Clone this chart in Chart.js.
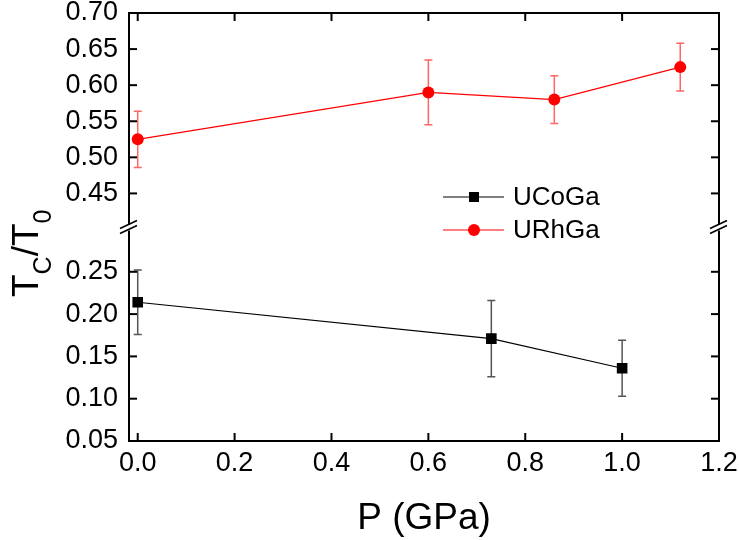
<!DOCTYPE html>
<html>
<head>
<meta charset="utf-8">
<script src="https://cdn.jsdelivr.net/npm/chart.js@4.4.0/dist/chart.umd.min.js"></script>
<style>
  html, body { margin: 0; padding: 0; background: #fff; }
</style>
</head>
<body>
<canvas id="chart" width="739" height="540"></canvas>
<script>
// UCoGa
const coPressure = [0.0, 0.73, 1.0];
const coTc = [0.214, 0.171, 0.136];
const coErr = [0.038, 0.045, 0.033];

// URhGa
const rhPressure = [0.0, 0.60, 0.86, 1.12];
const rhTc = [0.525, 0.590, 0.580, 0.625];
const rhErr = [0.039, 0.045, 0.033, 0.033];

const xTicks = [0.0, 0.2, 0.4, 0.6, 0.8, 1.0, 1.2];
const yTopTicks = [0.45, 0.50, 0.55, 0.60, 0.65, 0.70];
const yLowTicks = [0.05, 0.10, 0.15, 0.20, 0.25];

const FONT = '"Liberation Sans", Arial, sans-serif';

const toPoints = (xs, ys) => xs.map((x, i) => ({ x: x, y: ys[i] }));

// error bars, drawn under the markers
const errorBars = {
    id: 'errorBars',
    beforeDatasetsDraw(chart) {
        const ctx = chart.ctx;
        chart.data.datasets.forEach((ds, i) => {
            const xs = chart.scales.x;
            const ys = chart.scales[ds.yAxisID];
            ctx.save();
            ctx.strokeStyle = ds.errColor;
            ctx.lineWidth = 1.5;
            ds.data.forEach((p, j) => {
                const e = ds.errors[j];
                const px = xs.getPixelForValue(p.x);
                const t = ys.getPixelForValue(p.y + e);
                const b = ys.getPixelForValue(p.y - e);
                ctx.beginPath();
                ctx.moveTo(px, t); ctx.lineTo(px, b);
                ctx.moveTo(px - 4, t); ctx.lineTo(px + 4, t);
                ctx.moveTo(px - 4, b); ctx.lineTo(px + 4, b);
                ctx.stroke();
            });
            ctx.restore();
        });
    }
};

// frame with axis break, inward ticks, titles and legend
const frame = {
    id: 'frame',
    afterDraw(chart) {
        const { ctx, chartArea: a, scales } = chart;
        const yBreak = scales.yLow.top;
        const line = (x1, y1, x2, y2) => { ctx.beginPath(); ctx.moveTo(x1, y1); ctx.lineTo(x2, y2); ctx.stroke(); };
        ctx.save();
        ctx.strokeStyle = '#000';
        ctx.lineWidth = 2;
        line(a.left - 1, a.top, a.right + 1, a.top);
        line(a.left - 1, a.bottom, a.right + 1, a.bottom);
        for (const x of [a.left, a.right]) {
            line(x, a.top, x, yBreak - 5);
            line(x, yBreak + 1, x, a.bottom);
        }
        ctx.lineWidth = 1.5;
        for (const x of [a.left, a.right]) {
            line(x - 9, yBreak - 1, x + 8, yBreak - 9);
            line(x - 9, yBreak + 4, x + 8, yBreak - 4);
        }
        ctx.lineWidth = 2;
        xTicks.forEach(v => {
            const px = scales.x.getPixelForValue(v);
            line(px, a.bottom, px, a.bottom - 8);
            line(px, a.top, px, a.top + 8);
        });
        [['yTop', yTopTicks], ['yLow', yLowTicks]].forEach(([id, ticks]) => {
            ticks.forEach(v => {
                const py = scales[id].getPixelForValue(v);
                line(a.left, py, a.left + 8, py);
                line(a.right, py, a.right - 8, py);
            });
        });

        // axis titles
        ctx.fillStyle = '#000';
        ctx.textBaseline = 'alphabetic';
        ctx.font = '37px ' + FONT;
        ctx.textAlign = 'center';
        ctx.fillText('P (GPa)', (a.left + a.right) / 2, 529);

        ctx.save();
        ctx.translate(38, 297);
        ctx.rotate(-Math.PI / 2);
        ctx.textAlign = 'left';
        let cx = 0;
        const part = (txt, size, dy) => {
            ctx.font = size + 'px ' + FONT;
            ctx.fillText(txt, cx, dy);
            cx += ctx.measureText(txt).width;
        };
        part('T', 37, 0);
        part('C', 25, 13);
        part('/T', 37, 0);
        part('0', 25, 13);
        ctx.restore();

        // legend
        ctx.font = '26px ' + FONT;
        ctx.textAlign = 'left';
        ctx.textBaseline = 'middle';
        const items = [[chart.data.datasets[0], 197], [chart.data.datasets[1], 230]];
        items.forEach(([ds, y]) => {
            ctx.strokeStyle = ds.borderColor;
            ctx.lineWidth = 1.2;
            line(443, y, 504, y);
            ctx.fillStyle = ds.pointBackgroundColor;
            ctx.beginPath();
            if (ds.pointStyle === 'rect') ctx.rect(474 - 5, y - 5, 10, 10);
            else ctx.arc(474, y, 6, 0, Math.PI * 2);
            ctx.fill();
            ctx.fillStyle = '#000';
            ctx.fillText(ds.label, 513, y + 1);
        });
        ctx.restore();
    }
};

const tickFont = { family: FONT, size: 27 };

const noPad = s => { s.paddingTop = 0; s.paddingBottom = 0; s.paddingLeft = 0; s.paddingRight = 0; };

new Chart(document.getElementById('chart'), {
    type: 'scatter',
    data: {
        datasets: [{
            label: 'UCoGa',
            data: toPoints(coPressure, coTc),
            errors: coErr,
            errColor: '#555',
            yAxisID: 'yLow',
            showLine: true,
            borderColor: '#000',
            borderWidth: 1.2,
            pointStyle: 'rect',
            pointRadius: 7.5,
            pointBackgroundColor: '#000',
            pointBorderColor: '#000',
            pointBorderWidth: 0
        }, {
            label: 'URhGa',
            data: toPoints(rhPressure, rhTc),
            errors: rhErr,
            errColor: 'rgba(255,0,0,0.6)',
            yAxisID: 'yTop',
            showLine: true,
            borderColor: '#ff0000',
            borderWidth: 1.2,
            pointStyle: 'circle',
            pointRadius: 6,
            pointBackgroundColor: '#ff0000',
            pointBorderColor: '#ff0000',
            pointBorderWidth: 0
        }]
    },
    options: {
        responsive: false,
        animation: false,
        layout: { padding: { top: 13, right: 20, left: 0, bottom: 0 } },
        plugins: { legend: { display: false }, tooltip: { enabled: false } },
        scales: {
            x: {
                type: 'linear',
                min: -0.018,
                max: 1.2,
                grid: { display: false, drawTicks: false },
                border: { display: false },
                afterBuildTicks: s => { s.ticks = xTicks.map(v => ({ value: v })); },
                afterFit: s => { s.height = 99; noPad(s); },
                ticks: {
                    font: tickFont, color: '#000', padding: 6,
                    maxRotation: 0, autoSkip: false,
                    callback: v => v.toFixed(1)
                }
            },
            yLow: {
                type: 'linear',
                position: 'left',
                stack: 'tc',
                stackWeight: 211.6,
                weight: 0,
                min: 0.05,
                max: 0.30,
                grid: { display: false, drawTicks: false },
                border: { display: false },
                afterBuildTicks: s => { s.ticks = yLowTicks.map(v => ({ value: v })); },
                afterFit: s => { s.width = 129; noPad(s); },
                ticks: { font: tickFont, color: '#000', padding: 11, autoSkip: false, callback: v => v.toFixed(2) }
            },
            yTop: {
                type: 'linear',
                position: 'left',
                stack: 'tc',
                stackWeight: 216.6,
                weight: 1,
                min: 0.40,
                max: 0.70,
                grid: { display: false, drawTicks: false },
                border: { display: false },
                afterBuildTicks: s => { s.ticks = yTopTicks.map(v => ({ value: v })); },
                afterFit: s => { s.width = 129; noPad(s); },
                ticks: { font: tickFont, color: '#000', padding: 11, autoSkip: false, callback: v => v.toFixed(2) }
            }
        }
    },
    plugins: [errorBars, frame]
});
</script>
</body>
</html>
